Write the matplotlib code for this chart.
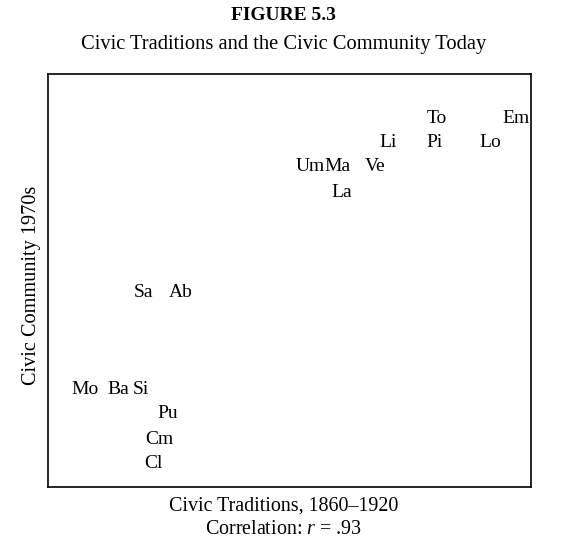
import matplotlib
matplotlib.use("Agg")
import matplotlib.pyplot as plt

# Region labels, positions (0-100 scale on both axes)
regions = ["To", "Em", "Li", "Pi", "Lo", "Um", "Ma", "Ve", "La",
           "Sa", "Ab", "Mo", "Ba", "Si", "Pu", "Cm", "Cl"]
civic_traditions = [80.5, 96.9, 70.4, 80.1, 91.5, 54.2, 60.0, 67.7, 60.9,
                    19.7, 27.5, 7.7, 14.5, 19.3, 24.8, 23.0, 21.9]
civic_community = [89.3, 89.3, 83.3, 83.3, 83.3, 77.5, 77.5, 77.5, 71.4,
                   47.2, 47.2, 23.5, 23.5, 23.5, 17.7, 11.6, 5.6]

plt.rcParams['font.family'] = ['Liberation Serif', 'DejaVu Serif']
plt.rcParams['mathtext.fontset'] = 'custom'
plt.rcParams['mathtext.it'] = 'Liberation Serif:italic'
plt.rcParams['mathtext.rm'] = 'Liberation Serif'

fig = plt.figure(figsize=(5.67, 5.48), dpi=100)
ax = fig.add_axes([48 / 567, 61 / 548, 483 / 567, 413 / 548])

for name, x, y in zip(regions, civic_traditions, civic_community):
    ax.text(x, y, name, ha='center', va='center', fontsize=14)

ax.set_xlim(0, 100)
ax.set_ylim(0, 100)
ax.set_xticks([])
ax.set_yticks([])
for s in ax.spines.values():
    s.set_linewidth(1.2)

fig.text(0.5, 1 - 16 / 548, "FIGURE 5.3", ha='center', va='center',
         fontsize=14, fontweight='bold')
fig.text(0.5, 1 - 44 / 548, "Civic Traditions and the Civic Community Today",
         ha='center', va='center', fontsize=14.8)
fig.text(0.5, 1 - 506 / 548, "Civic Traditions, 1860\u20131920",
         ha='center', va='center', fontsize=14.4)
fig.text(0.5, 1 - 529 / 548, "Correlation: $r$ = .93",
         ha='center', va='center', fontsize=14.4)
fig.text(32 / 567, 1 - 285 / 548, "Civic Community 1970s", rotation=90,
         ha='center', va='center', fontsize=14.6)

fig.savefig("out.png", dpi=100)
